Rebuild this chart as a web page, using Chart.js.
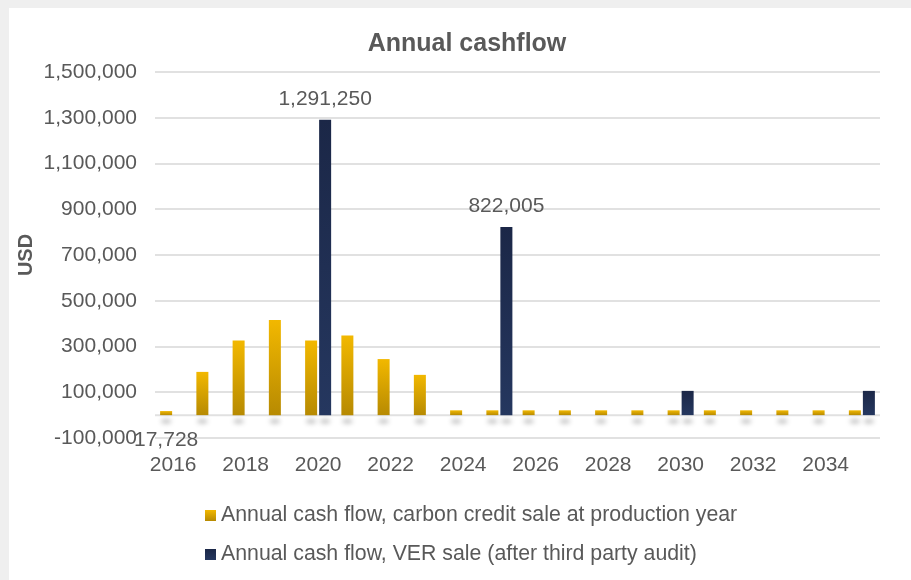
<!DOCTYPE html>
<html>
<head>
<meta charset="utf-8">
<title>Annual cashflow</title>
<script src="https://cdn.jsdelivr.net/npm/chart.js@4.4.1/dist/chart.umd.min.js"></script>
<style>
  html, body { margin: 0; padding: 0; background: #efefef; }
  #wrap { position: relative; width: 911px; height: 580px; }
</style>
</head>
<body>
<div id="wrap"><canvas id="cashflowChart"></canvas></div>
<script>
// chart data
const years = ['2016', '2017', '2018', '2019', '2020', '2021', '2022', '2023', '2024', '2025',
  '2026', '2027', '2028', '2029', '2030', '2031', '2032', '2033', '2034', '2035'];
const carbonSale = [17728, 189000, 326000, 416000, 326000, 348000, 245000, 176000, 21000, 21000,
  21000, 21000, 21000, 21000, 21000, 21000, 21000, 21000, 21000, 21000];
const verSale = [0, 0, 0, 0, 1291250, 0, 0, 0, 0, 822005,
  0, 0, 0, 0, 106000, 0, 0, 0, 0, 106000];
const seriesNames = [
  'Annual cash flow, carbon credit sale at production year',
  'Annual cash flow, VER sale (after third party audit)'
];
const yTicks = { min: -100000, max: 1500000, step: 200000 };
// which bars carry a value label: [datasetIndex, dataIndex, placement]
const valueLabels = [[0, 0, 'axisMin'], [1, 4, 'top'], [1, 9, 'top']];

const FONT = '"Liberation Sans", Arial, sans-serif';
const TEXT = '#595959';
const GRID = '#e1e1e1';

// top -> bottom colours for each series
const barColors = [
  ['#f2b800', '#b78a02'],
  ['#1b2747', '#25375f']
];

function barGradient(context, idx) {
  const chart = context.chart;
  const y = chart.scales.y;
  if (!y || !chart.chartArea) return barColors[idx][0];
  const v = context.raw || 0;
  const top = y.getPixelForValue(v);
  const base = y.getPixelForValue(0);
  if (Math.abs(base - top) < 1) return barColors[idx][0];
  const g = chart.ctx.createLinearGradient(0, top, 0, base);
  g.addColorStop(0, barColors[idx][0]);
  g.addColorStop(1, barColors[idx][1]);
  return g;
}

const panelPlugin = {
  id: 'panel',
  beforeDraw(chart) {
    const ctx = chart.ctx;
    ctx.save();
    ctx.fillStyle = '#efefef';
    ctx.fillRect(0, 0, chart.width, chart.height);
    ctx.fillStyle = '#ffffff';
    ctx.fillRect(9, 8, chart.width - 9, chart.height - 8);
    ctx.restore();
  }
};

// zero line and soft shadows under the bars
const baselinePlugin = {
  id: 'baseline',
  beforeDatasetsDraw(chart) {
    const ctx = chart.ctx;
    const area = chart.chartArea;
    const y0 = chart.scales.y.getPixelForValue(0);
    ctx.save();
    ctx.strokeStyle = GRID;
    ctx.lineWidth = 2;
    ctx.beginPath();
    ctx.moveTo(area.left, y0);
    ctx.lineTo(area.right, y0);
    ctx.stroke();

    // draw the blob far off-canvas and let only its blurred shadow land here
    const shift = 2000;
    ctx.fillStyle = '#000';
    ctx.shadowColor = 'rgba(0, 0, 0, 0.28)';
    ctx.shadowBlur = 5;
    ctx.shadowOffsetX = 0;
    ctx.shadowOffsetY = shift;
    chart.data.datasets.forEach((ds, di) => {
      chart.getDatasetMeta(di).data.forEach((bar, i) => {
        if (!ds.data[i]) return;
        ctx.beginPath();
        ctx.ellipse(bar.x, y0 + 6 - shift, bar.width / 2 - 1, 2, 0, 0, Math.PI * 2);
        ctx.fill();
      });
    });
    ctx.restore();
  }
};

const textPlugin = {
  id: 'texts',
  afterDraw(chart) {
    const ctx = chart.ctx;
    const y = chart.scales.y;
    ctx.save();

    // title
    ctx.fillStyle = TEXT;
    ctx.font = 'bold 25px ' + FONT;
    ctx.textAlign = 'center';
    ctx.textBaseline = 'alphabetic';
    ctx.fillText('Annual cashflow', 467, 51);

    // value labels
    ctx.font = '21px ' + FONT;
    valueLabels.forEach(([di, i, place]) => {
      const bar = chart.getDatasetMeta(di).data[i];
      const v = chart.data.datasets[di].data[i];
      const txt = v.toLocaleString('en-US');
      const ty = place === 'top' ? bar.y - 15 : y.getPixelForValue(yTicks.min) + 7.5;
      ctx.fillText(txt, bar.x, ty);
    });

    // legend, two rows stacked on a shared left edge
    const lx = 205;
    const rows = [521, 560];
    ctx.font = '21.3px ' + FONT;
    ctx.textAlign = 'left';
    seriesNames.forEach((name, idx) => {
      const by = rows[idx] - 11;
      const g = ctx.createLinearGradient(0, by, 0, by + 11);
      g.addColorStop(0, barColors[idx][0]);
      g.addColorStop(1, barColors[idx][1]);
      ctx.fillStyle = g;
      ctx.fillRect(lx, by, 11, 11);
      ctx.fillStyle = TEXT;
      ctx.fillText(name, lx + 16, rows[idx]);
    });
    ctx.restore();
  }
};

const chart = new Chart(document.getElementById('cashflowChart'), {
  type: 'bar',
  data: {
    labels: years,
    datasets: [
      {
        label: seriesNames[0],
        data: carbonSale,
        backgroundColor: ctx => barGradient(ctx, 0),
        borderWidth: 0,
        categoryPercentage: 0.773,
        barPercentage: 0.857
      },
      {
        label: seriesNames[1],
        data: verSale,
        backgroundColor: ctx => barGradient(ctx, 1),
        borderWidth: 0,
        categoryPercentage: 0.773,
        barPercentage: 0.857
      }
    ]
  },
  options: {
    responsive: true,
    maintainAspectRatio: false,
    animation: false,
    layout: {
      padding: { left: 10, right: 31, top: 72, bottom: 102 }
    },
    plugins: {
      legend: { display: false },
      title: { display: false },
      tooltip: { enabled: false }
    },
    scales: {
      x: {
        grid: { display: false, drawTicks: false },
        border: { display: false },
        ticks: {
          autoSkip: false,
          maxRotation: 0,
          padding: 15,
          color: TEXT,
          font: { family: FONT, size: 21 },
          callback: function(value, index) {
            return index % 2 === 0 ? this.getLabelForValue(value) : '';
          }
        },
        afterFit: scale => { scale.height = 40; }
      },
      y: {
        min: yTicks.min,
        max: yTicks.max,
        grid: { color: GRID, lineWidth: 2, drawTicks: false },
        border: { display: false },
        ticks: {
          stepSize: yTicks.step,
          padding: 18,
          color: TEXT,
          font: { family: FONT, size: 21 },
          callback: value => value.toLocaleString('en-US')
        },
        title: {
          display: true,
          text: 'USD',
          color: TEXT,
          font: { family: FONT, size: 20, weight: 'bold' },
          padding: { top: 4, bottom: 0 }
        },
        afterFit: scale => { scale.width = 145; }
      }
    }
  },
  plugins: [panelPlugin, baselinePlugin, textPlugin]
});
</script>
</body>
</html>
